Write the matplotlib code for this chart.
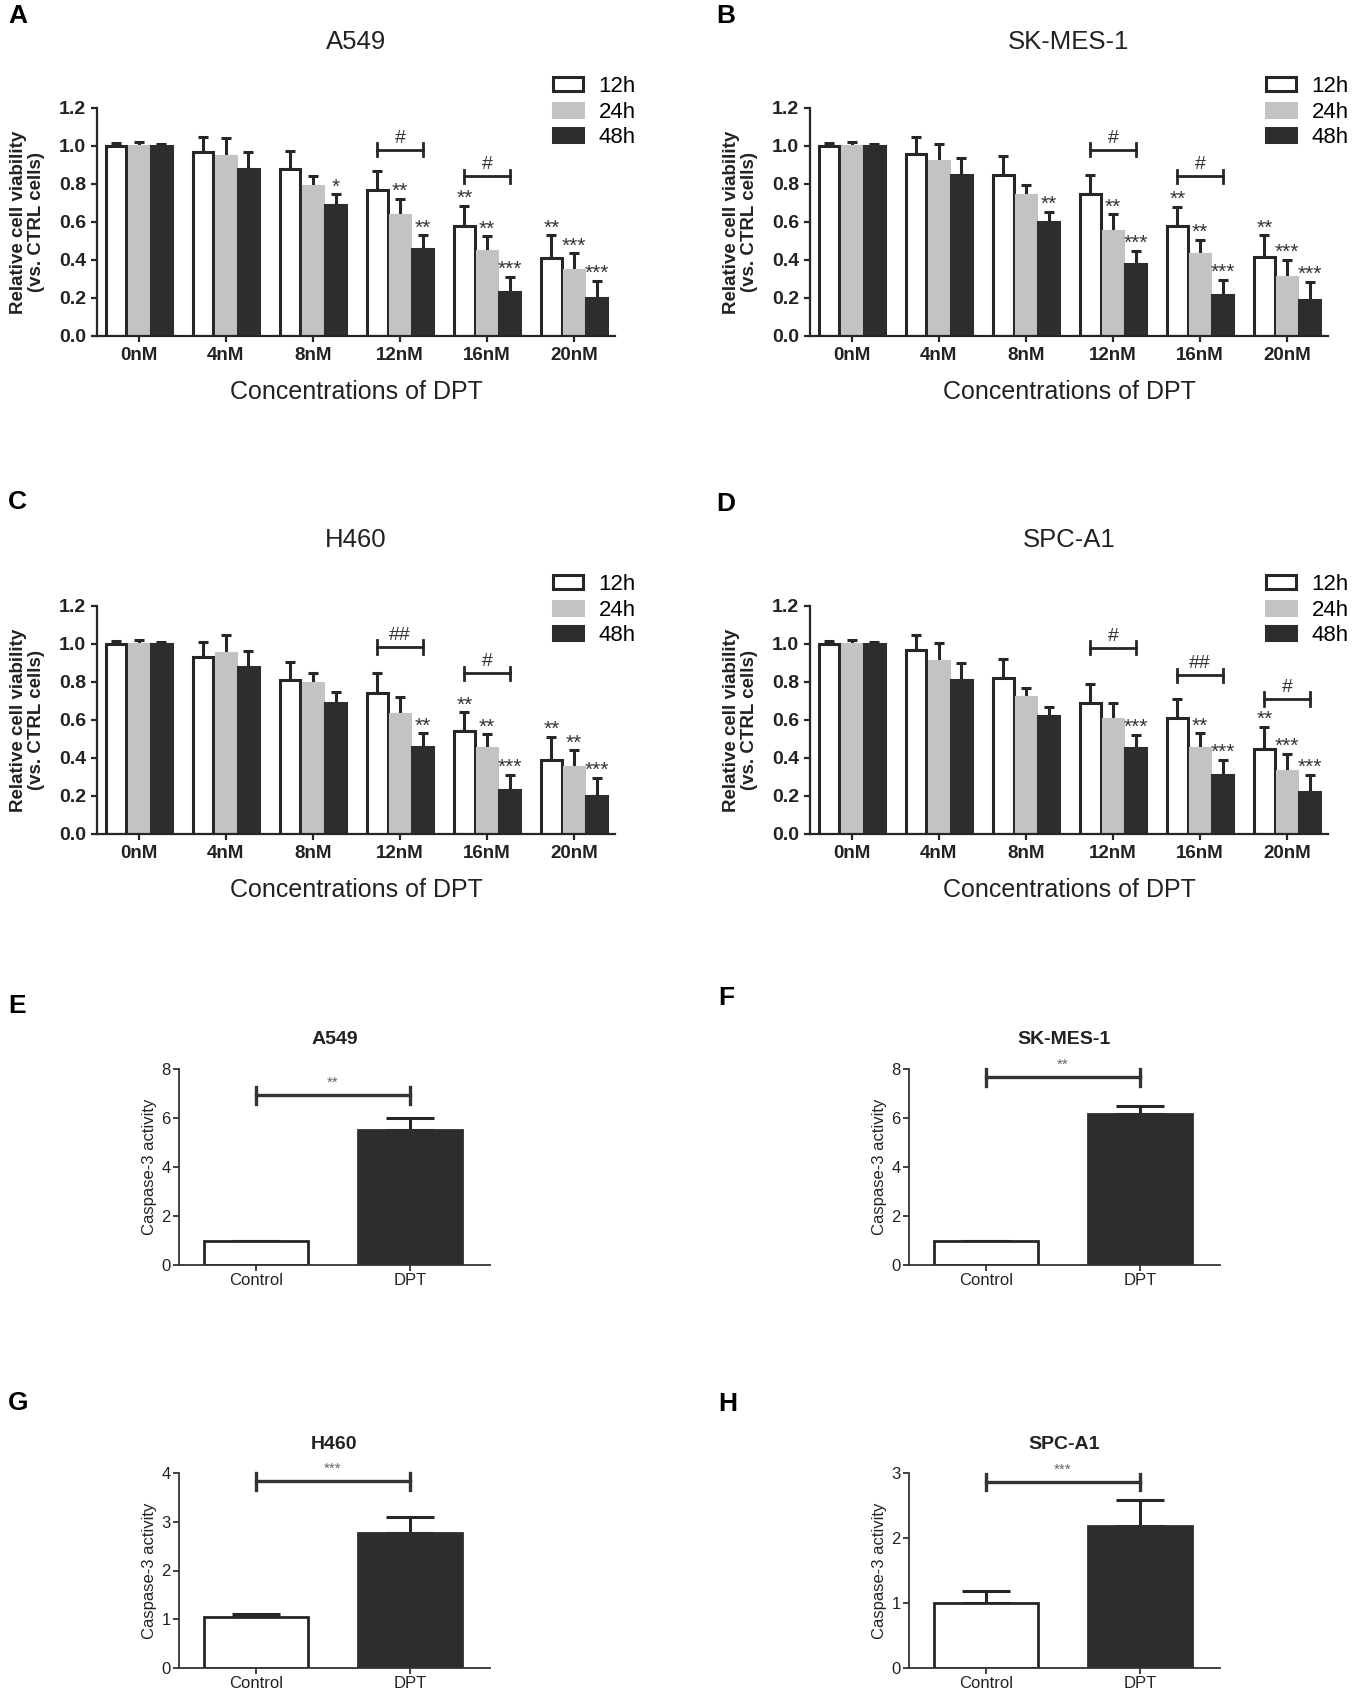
import matplotlib
matplotlib.use('Agg')
import matplotlib.pyplot as plt
import numpy as np

plt.rcParams['font.family'] = ['Liberation Sans', 'DejaVu Sans']

# ---- data: cell viability (A-D) ----
conc_labels = ['0nM', '4nM', '8nM', '12nM', '16nM', '20nM']
time_labels = ['12h', '24h', '48h']

a549_mean = [[1.00, 0.97, 0.88, 0.77, 0.58, 0.41],
             [1.00, 0.95, 0.79, 0.635, 0.45, 0.35],
             [1.00, 0.88, 0.69, 0.46, 0.23, 0.20]]
a549_err = [[0.015, 0.08, 0.095, 0.10, 0.105, 0.12],
            [0.02, 0.09, 0.05, 0.085, 0.075, 0.085],
            [0.01, 0.09, 0.055, 0.07, 0.08, 0.09]]
a549_stars = [['', '', '', '', '**', '**'],
              ['', '', '', '**', '**', '***'],
              ['', '', '*', '**', '***', '***']]
a549_br_idx = [3, 4]
a549_br_lvl = [0.98, 0.84]
a549_br_txt = ['#', '#']

skmes_mean = [[1.00, 0.96, 0.85, 0.75, 0.58, 0.415],
              [1.00, 0.92, 0.74, 0.555, 0.43, 0.31],
              [1.00, 0.85, 0.60, 0.38, 0.215, 0.19]]
skmes_err = [[0.015, 0.085, 0.095, 0.10, 0.10, 0.115],
             [0.02, 0.09, 0.055, 0.085, 0.075, 0.09],
             [0.01, 0.085, 0.055, 0.07, 0.08, 0.095]]
skmes_stars = [['', '', '', '', '**', '**'],
               ['', '', '', '**', '**', '***'],
               ['', '', '**', '***', '***', '***']]
skmes_br_idx = [3, 4]
skmes_br_lvl = [0.98, 0.84]
skmes_br_txt = ['#', '#']

h460_mean = [[1.00, 0.93, 0.81, 0.74, 0.54, 0.39],
             [1.00, 0.955, 0.795, 0.63, 0.455, 0.355],
             [1.00, 0.88, 0.69, 0.46, 0.23, 0.20]]
h460_err = [[0.015, 0.08, 0.095, 0.105, 0.10, 0.12],
            [0.02, 0.095, 0.05, 0.09, 0.07, 0.085],
            [0.01, 0.085, 0.055, 0.07, 0.08, 0.095]]
h460_stars = [['', '', '', '', '**', '**'],
              ['', '', '', '', '**', '**'],
              ['', '', '', '**', '***', '***']]
h460_br_idx = [3, 4]
h460_br_lvl = [0.985, 0.845]
h460_br_txt = ['##', '#']

spca1_mean = [[1.00, 0.97, 0.82, 0.69, 0.61, 0.45],
              [1.00, 0.91, 0.72, 0.605, 0.455, 0.33],
              [1.00, 0.81, 0.62, 0.455, 0.31, 0.22]]
spca1_err = [[0.015, 0.08, 0.10, 0.10, 0.10, 0.115],
             [0.02, 0.095, 0.05, 0.085, 0.075, 0.09],
             [0.01, 0.09, 0.05, 0.065, 0.08, 0.09]]
spca1_stars = [['', '', '', '', '', '**'],
               ['', '', '', '', '**', '***'],
               ['', '', '', '***', '***', '***']]
spca1_br_idx = [3, 4, 5]
spca1_br_lvl = [0.98, 0.835, 0.71]
spca1_br_txt = ['#', '##', '#']

# ---- data: caspase-3 activity (E-H) ----
group_labels = ['Control', 'DPT']
casp_titles = ['A549', 'SK-MES-1', 'H460', 'SPC-A1']
casp_mean = [[1.0, 5.52], [1.0, 6.16], [1.05, 2.77], [1.0, 2.18]]
casp_err = [[0.0, 0.50], [0.0, 0.34], [0.06, 0.32], [0.18, 0.41]]
casp_ymax = [8, 8, 4, 3]
casp_ystep = [2, 2, 1, 1]
casp_br_lvl = [6.92, 7.66, 3.83, 2.86]
casp_stars = ['**', '**', '***', '***']

DARK = '#262626'
face_cols = ['white', '#c3c3c3', '#2d2d2d']
edge_cols = [DARK, '#c3c3c3', '#2d2d2d']

W, H = 1353, 1693
fig = plt.figure(figsize=(W / 100, H / 100), dpi=100)


def px_rect(left, top, width, height):
    return [left / W, 1 - (top + height) / H, width / W, height / H]


def viability(ax, title, means, errs, stars, br_idx, br_lvl, br_txt):
    x = np.arange(len(conc_labels))
    offs = [-0.26, 0.0, 0.26]
    handles = []
    for k in range(3):
        m = np.array(means[k])
        e = np.array(errs[k])
        b = ax.bar(x + offs[k], m, 0.235, color=face_cols[k], edgecolor=edge_cols[k],
                   linewidth=2.2, label=time_labels[k], zorder=2)
        handles.append(b)
        ax.errorbar(x + offs[k], m, yerr=[np.zeros_like(e), e], fmt='none',
                    ecolor=DARK, elinewidth=2.2, capsize=3.5, capthick=2.2, zorder=1)
        for i, s in enumerate(stars[k]):
            if s:
                ax.text(x[i] + offs[k], m[i] + e[i] + 0.01, s, ha='center',
                        va='baseline', fontsize=15, color='#333333')
    # brackets between 12h and 48h
    for i, lv, t in zip(br_idx, br_lvl, br_txt):
        x0, x1 = x[i] + offs[0], x[i] + offs[2]
        ax.plot([x0, x1], [lv, lv], color=DARK, lw=2.0, clip_on=False)
        ax.plot([x0, x0], [lv - 0.035, lv + 0.035], color=DARK, lw=2.0, clip_on=False)
        ax.plot([x1, x1], [lv - 0.035, lv + 0.035], color=DARK, lw=2.0, clip_on=False)
        ax.text((x0 + x1) / 2, lv + 0.038, t, ha='center', va='baseline',
                fontsize=14, color='#333333')

    ax.set_xlim(-0.48, 5.47)
    ax.set_ylim(0, 1.2)
    ax.set_yticks(np.arange(0, 1.21, 0.2))
    ax.set_yticklabels(['%.1f' % v for v in np.arange(0, 1.21, 0.2)],
                       fontweight='bold', fontsize=14)
    ax.set_xticks(x)
    ax.set_xticklabels(conc_labels, fontweight='bold', fontsize=13.5)
    for sp in ['top', 'right']:
        ax.spines[sp].set_visible(False)
    for sp in ['left', 'bottom']:
        ax.spines[sp].set_linewidth(1.6)
        ax.spines[sp].set_color(DARK)
    ax.tick_params(axis='both', width=1.6, length=4, color=DARK, labelcolor='#222222', pad=4)
    ax.set_ylabel('Relative cell viability\n(vs. CTRL cells)', fontweight='bold',
                  fontsize=13.5, color='#222222', linespacing=1.1)
    ax.yaxis.set_label_coords(-0.1, 0.5)
    ax.set_xlabel('Concentrations of DPT', fontsize=18, color='#222222')
    ax.xaxis.set_label_coords(0.5, -0.195)
    ax.text(0.5, 1 + 66 / 228, title, transform=ax.transAxes, ha='center',
            va='center', fontsize=18.5, color='#222222')
    ax.legend(handles=handles, loc='upper left', bbox_to_anchor=(0.88, 1.14),
              frameon=False, fontsize=16, handlelength=1.35, handleheight=0.6,
              handletextpad=0.7, labelspacing=0.2, borderpad=0, borderaxespad=0)


def caspase(ax, title, means, errs, ymax, ystep, lvl, star):
    x = np.arange(len(group_labels))
    m = np.array(means)
    e = np.array(errs)
    ax.bar(x, m, 0.68, color=['white', '#2d2d2d'], edgecolor=[DARK, '#2d2d2d'],
           linewidth=2.0, zorder=2)
    ax.errorbar(x, m, yerr=[np.zeros_like(e), e], fmt='none', ecolor=DARK,
                elinewidth=2.2, capsize=17, capthick=2.2, zorder=1)
    cap = ymax * 0.043
    ax.plot([x[0], x[1]], [lvl, lvl], color='#333333', lw=2.4, clip_on=False)
    ax.plot([x[0], x[0]], [lvl - cap, lvl + cap], color='#333333', lw=2.4, clip_on=False)
    ax.plot([x[1], x[1]], [lvl - cap, lvl + cap], color='#333333', lw=2.4, clip_on=False)
    ax.text((x[0] + x[1]) / 2, lvl + ymax * 0.045, star, ha='center', va='baseline',
            fontsize=11, color='#666666')
    ax.set_xlim(-0.5, 1.52)
    ax.set_ylim(0, ymax)
    ax.set_yticks(np.arange(0, ymax + 0.1, ystep))
    ax.set_xticks(x)
    ax.set_xticklabels(group_labels, fontsize=12)
    ax.tick_params(axis='y', labelsize=12)
    for sp in ['top', 'right']:
        ax.spines[sp].set_visible(False)
    for sp in ['left', 'bottom']:
        ax.spines[sp].set_linewidth(1.3)
        ax.spines[sp].set_color('#333333')
    ax.tick_params(axis='both', width=1.3, length=4, color='#333333', labelcolor='#222222', pad=2)
    ax.set_ylabel('Caspase-3 activity', fontsize=12, color='#222222')
    ax.yaxis.set_label_coords(-0.07, 0.5)
    ax.text(0.5, 1 + 29 / 196, title, transform=ax.transAxes, ha='center',
            va='center', fontsize=14, fontweight='bold', color='#222222')


axA = fig.add_axes(px_rect(97, 108, 518, 228))
axB = fig.add_axes(px_rect(810, 108, 518, 228))
axC = fig.add_axes(px_rect(97, 606, 518, 228))
axD = fig.add_axes(px_rect(810, 606, 518, 228))
viability(axA, 'A549', a549_mean, a549_err, a549_stars, a549_br_idx, a549_br_lvl, a549_br_txt)
viability(axB, 'SK-MES-1', skmes_mean, skmes_err, skmes_stars, skmes_br_idx, skmes_br_lvl, skmes_br_txt)
viability(axC, 'H460', h460_mean, h460_err, h460_stars, h460_br_idx, h460_br_lvl, h460_br_txt)
viability(axD, 'SPC-A1', spca1_mean, spca1_err, spca1_stars, spca1_br_idx, spca1_br_lvl, spca1_br_txt)

casp_rects = [px_rect(179, 1069, 311, 196), px_rect(909, 1069, 311, 196),
              px_rect(179, 1473, 311, 195), px_rect(909, 1473, 311, 195)]
for i, r in enumerate(casp_rects):
    ax = fig.add_axes(r)
    caspase(ax, casp_titles[i], casp_mean[i], casp_err[i], casp_ymax[i],
            casp_ystep[i], casp_br_lvl[i], casp_stars[i])

# panel letters
letters = ['A', 'B', 'C', 'D', 'E', 'F', 'G', 'H']
letter_pos = [(8, 16), (716, 16), (8, 502), (716, 504),
              (8, 1006), (718, 998), (8, 1403), (718, 1404)]
for t, (lx, ly) in zip(letters, letter_pos):
    fig.text(lx / W, 1 - ly / H, t, ha='left', va='center', fontsize=19,
             fontweight='bold', color='black')

fig.savefig('out.png', dpi=100)
